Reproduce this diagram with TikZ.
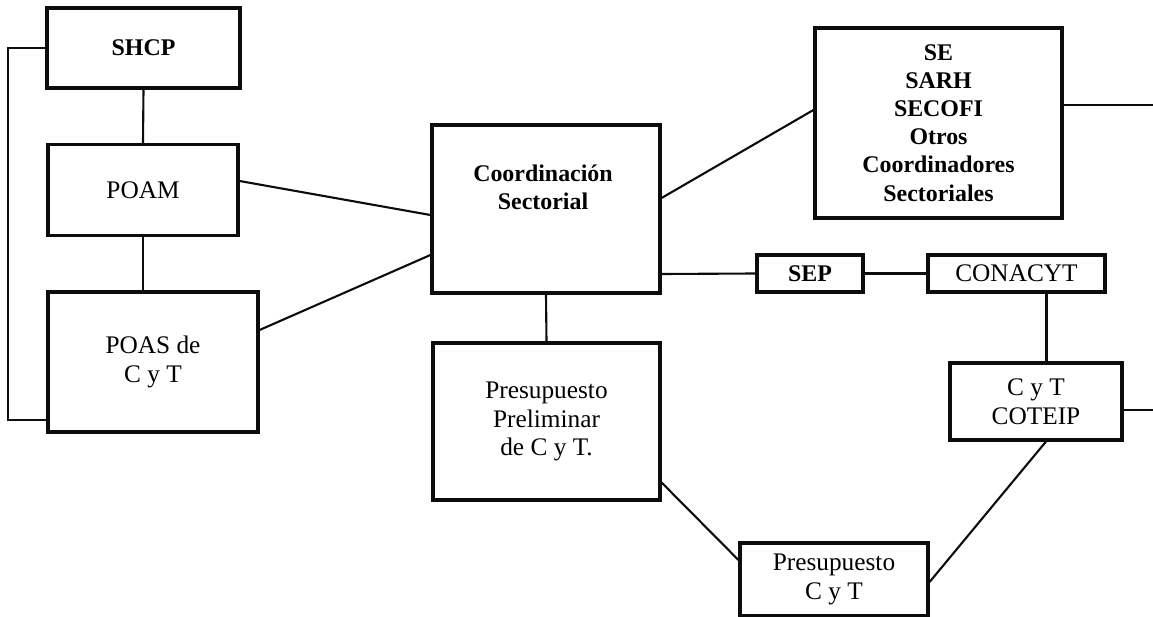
\documentclass[tikz,border=0pt]{standalone}
\usepackage{fontspec}
\setmainfont{Liberation Serif}
\usetikzlibrary{calc}
\definecolor{LineClr}{rgb}{0.05,0.05,0.05}

\begin{document}
\begin{tikzpicture}[x=0.025cm,y=-0.025cm,
  box/.style={draw=LineClr,line width=2.2pt,inner sep=0pt,align=center,
    font=\fontsize{18}{20.5}\selectfont},
  heavy/.style={font=\fontsize{17}{20}\selectfont\bfseries},
  link/.style={draw=LineClr,line width=1.5pt}]
\useasboundingbox (0,0) rectangle (1153,617);

\node[box,heavy,minimum width=4.825cm,minimum height=2cm] (shcp) at (143.5,48) {SHCP};
\node[box,minimum width=4.75cm,minimum height=2.275cm] (poam) at (143,190) {POAM};
\node[box,minimum width=5.25cm,minimum height=3.5cm] (poas) at (153,362) {POAS de\\C y T};

\node[box,minimum width=5.7cm,minimum height=4.2cm] (coord) at (546,209) {};
\node[heavy,align=center] (coordtxt) at (543,187) {Coordinación\\Sectorial};
\node[box,minimum width=5.675cm,minimum height=3.925cm] (prelim) at (546.5,421.5) {Presupuesto\\Preliminar\\de C y T.};

\node[box,heavy,minimum width=6.175cm,minimum height=4.75cm] (sect) at (938.5,123)
  {SE\\SARH\\SECOFI\\Otros\\Coordinadores\\Sectoriales};
\node[box,heavy,minimum width=2.65cm,minimum height=0.925cm] (sep) at (810,273.5) {SEP};
\node[box,minimum width=4.425cm,minimum height=0.925cm] (conacyt) at (1016.5,273.5) {CONACYT};
\node[box,minimum width=4.3cm,minimum height=1.925cm] (coteip) at (1036,401.5) {C y T\\COTEIP};
\node[box,minimum width=4.7cm,minimum height=1.825cm] (pcyt) at (834,579.5) {Presupuesto\\C y T};

\draw[link] (shcp.west) -- ++(-37,0) |- ($(poas.south west)+(0,-14)$);
\draw[link] (shcp.south) -- (poam.north);
\draw[link] (poam.south) -- (poam.south |- poas.north);
\draw[link] ($(poam.east)+(0,-9)$) -- ($(coord.west)+(0,6)$);
\draw[link] ($(poas.east)+(0,-32)$) -- ($(coord.west)+(0,46)$);

\draw[link] ($(coord.east)+(0,-11)$) -- ($(sect.west)+(0,-13)$);
\draw[link] ($(sect.east)+(0,-18)$) -- ++(91,0);
\draw[link] ($(coord.east)+(0,65)$) -- (sep.west);
\draw[link] (sep.east) -- (conacyt.west);
\draw[link] ($(conacyt.south)+(30,0)$) coordinate (cdrop) -- (cdrop |- coteip.north);
\draw[link] ($(coteip.east)+(0,8.5)$) -- ++(31,0);

\draw[link] (coord.south) -- (prelim.north);
\draw[link] ($(prelim.east)+(0,61)$) -- ($(pcyt.west)+(0,-19.5)$);
\draw[link] ($(pcyt.east)+(0,2.5)$) -- ($(coteip.south)+(10,0)$);

\end{tikzpicture}
\end{document}
